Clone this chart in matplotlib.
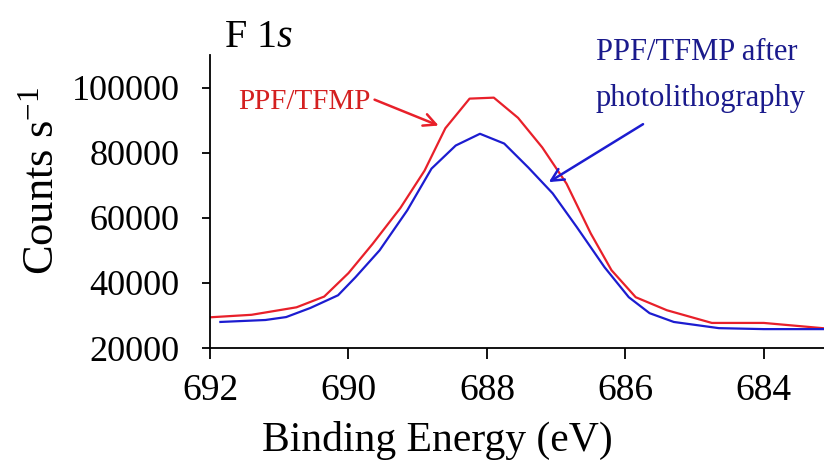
import matplotlib
matplotlib.use("Agg")
import matplotlib.pyplot as plt

# F 1s spectra
red_x = [692.1, 691.4, 690.75, 690.35, 690.0, 689.65, 689.25, 688.9, 688.6, 688.25,
         687.9, 687.55, 687.2, 686.85, 686.5, 686.2, 685.85, 685.4, 684.75, 684.0, 683.1]
red_y = [29300, 30200, 32500, 35800, 43000, 52000, 63000, 74500, 87500, 96600,
         96900, 90700, 81600, 70500, 55200, 43900, 35600, 31600, 27700, 27700, 26000]

blue_x = [691.85, 691.2, 690.9, 690.55, 690.15, 689.9, 689.55, 689.15, 688.8, 688.45, 688.1,
          687.75, 687.4, 687.05, 686.7, 686.3, 685.95, 685.65, 685.3, 684.65, 684.0, 683.1]
blue_y = [28000, 28600, 29500, 32300, 36200, 41700, 50000, 62300, 75100, 82200, 85800,
          82800, 75400, 67500, 57100, 44800, 35600, 30700, 28000, 26100, 25800, 25800]

x_ticks = [692, 690, 688, 686, 684]
y_ticks = [20000, 40000, 60000, 80000, 100000]

plt.rcParams["font.family"] = ["Liberation Serif", "DejaVu Serif"]
plt.rcParams["mathtext.fontset"] = "custom"
plt.rcParams["mathtext.rm"] = "Liberation Serif"
plt.rcParams["mathtext.it"] = "Liberation Serif:italic"

red_line = "#e8202a"
blue_line = "#1c1cd0"
red_text = "#d42020"
blue_text = "#1a1a8c"

fig = plt.figure(figsize=(8.24, 4.73), dpi=100)
ax = fig.add_axes([210 / 824, 1 - 348 / 473, 614 / 824, 293 / 473])

ax.plot(red_x, red_y, color=red_line, lw=1.6)
ax.plot(blue_x, blue_y, color=blue_line, lw=1.6)

ax.set_xlim(692, 683.13)
ax.set_ylim(20000, 110000)
ax.set_xticks(x_ticks)
ax.set_yticks(y_ticks)
ax.tick_params(axis="x", direction="out", length=8, width=1.3, pad=10, labelsize=27)
ax.tick_params(axis="y", direction="out", length=6, width=1.3, pad=16, labelsize=26)

for s in ["top", "right"]:
    ax.spines[s].set_visible(False)
for s in ["left", "bottom"]:
    ax.spines[s].set_linewidth(1.3)

ax.set_xlabel("Binding Energy (eV)", fontsize=30)
ax.xaxis.set_label_coords(0.37, -0.25)
ax.set_ylabel(r"Counts s$^{\mathregular{-1}}$", fontsize=32)
ax.yaxis.set_label_coords(-0.24, 0.57)

# title and annotations
fig.text(224 / 824, 1 - 47 / 473, r"F 1$\mathit{s}$", fontsize=29, va="baseline", ha="left")

ax.text(690.63, 93500, "PPF/TFMP", color=red_text, fontsize=21, ha="center", va="baseline")
ax.annotate("", xy=(688.66, 88000), xytext=(689.66, 96600),
            arrowprops=dict(arrowstyle="->", color=red_line, lw=1.8, mutation_scale=22))

fig.text(697 / 824, 1 - 60 / 473, "PPF/TFMP after", color=blue_text, fontsize=22,
         ha="center", va="baseline")
fig.text(701 / 824, 1 - 106 / 473, "photolithography", color=blue_text, fontsize=22,
         ha="center", va="baseline")
ax.annotate("", xy=(687.14, 70500), xytext=(685.71, 89200),
            arrowprops=dict(arrowstyle="->", color=blue_line, lw=1.8, mutation_scale=22))

fig.savefig("out.png", dpi=100)
